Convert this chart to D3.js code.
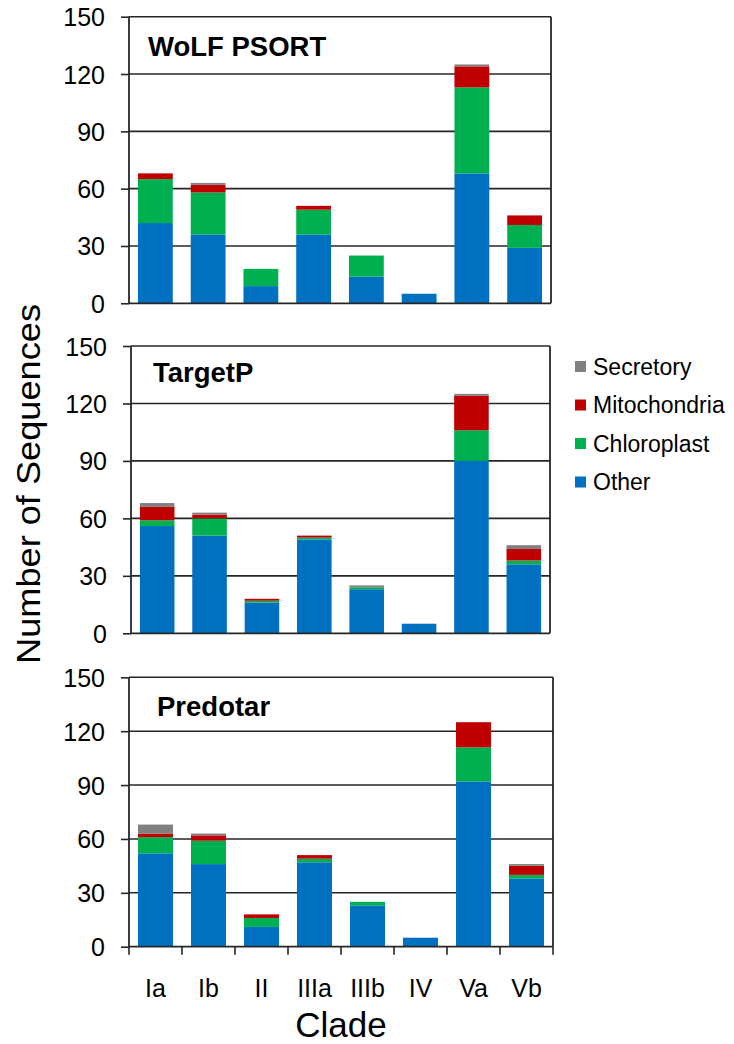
<!DOCTYPE html>
<html>
<head>
<meta charset="utf-8">
<script src="https://cdn.jsdelivr.net/npm/d3@7"></script>
<style>
  html, body { margin: 0; padding: 0; background: #fff; }
  svg text { font-family: "Liberation Sans", Arial, sans-serif; fill: #000; }
</style>
</head>
<body>
<svg id="chart" width="734" height="1044"></svg>
<script>
// Clades on the x axis
const clades = ["Ia", "Ib", "II", "IIIa", "IIIb", "IV", "Va", "Vb"];

// Localisation classes, bottom of the stack first
const locations = ["Other", "Chloroplast", "Mitochondria", "Secretory"];
const locationColors = ["#0070C0", "#00B050", "#C00000", "#808080"];

// Value axis ticks
const yTicks = [0, 30, 60, 90, 120, 150];

// WoLF PSORT predictions per clade
const wolfOther        = [42, 36, 9, 36, 14, 5, 68, 29];
const wolfChloroplast  = [23, 22, 9, 13, 11, 0, 45, 12];
const wolfMitochondria = [3, 4, 0, 2, 0, 0, 11, 5];
const wolfSecretory    = [0, 1, 0, 0, 0, 0, 1, 0];

// TargetP predictions per clade
const tpOther        = [56, 51, 16, 49, 23, 5, 90, 36];
const tpChloroplast  = [3, 9, 1, 1, 1, 0, 16, 2];
const tpMitochondria = [7, 2, 1, 1, 0, 0, 18, 6];
const tpSecretory    = [2, 1, 0, 0, 1, 0, 1, 2];

// Predotar predictions per clade
const pdOther        = [52, 46, 11, 47, 23, 5, 92, 38];
const pdChloroplast  = [9, 13, 5, 2, 2, 0, 19, 2];
const pdMitochondria = [2, 3, 2, 2, 0, 0, 14, 5];
const pdSecretory    = [5, 1, 0, 0, 0, 0, 0, 1];

const panels = [
  { title: "WoLF PSORT", series: [wolfOther, wolfChloroplast, wolfMitochondria, wolfSecretory],
    x0: 129, x1: 551, top: 16.7, bottom: 303.3, titleX: 148, titleY: 56, xTicks: false },
  { title: "TargetP", series: [tpOther, tpChloroplast, tpMitochondria, tpSecretory],
    x0: 131, x1: 550, top: 346, bottom: 633.3, titleX: 153, titleY: 382, xTicks: false },
  { title: "Predotar", series: [pdOther, pdChloroplast, pdMitochondria, pdSecretory],
    x0: 129, x1: 553, top: 677.3, bottom: 946.7, titleX: 157, titleY: 716, xTicks: true }
];

const svg = d3.select("#chart");
const lineColor = "#262626";

panels.forEach(p => {
  const g = svg.append("g");

  const x = d3.scaleBand().domain(clades).range([p.x0, p.x1])
    .paddingInner(0.34).paddingOuter(0.17);
  const y = d3.scaleLinear().domain([0, 150]).range([p.bottom, p.top]);

  // horizontal gridlines (including the top frame line at 150)
  g.selectAll("line.grid").data(yTicks.filter(t => t > 0)).join("line")
    .attr("class", "grid")
    .attr("x1", p.x0).attr("x2", p.x1)
    .attr("y1", d => y(d)).attr("y2", d => y(d))
    .attr("stroke", lineColor).attr("stroke-width", 1.6);

  // right frame line
  g.append("line")
    .attr("x1", p.x1).attr("x2", p.x1)
    .attr("y1", y(150)).attr("y2", y(0))
    .attr("stroke", lineColor).attr("stroke-width", 1.8);

  // stacked bars
  const rows = clades.map((c, i) => {
    const r = { clade: c };
    locations.forEach((loc, k) => { r[loc] = p.series[k][i]; });
    return r;
  });
  const stacked = d3.stack().keys(locations)(rows);

  g.selectAll("g.layer").data(stacked).join("g")
    .attr("class", "layer")
    .attr("fill", (d, k) => locationColors[k])
    .selectAll("rect").data(d => d).join("rect")
    .attr("x", d => x(d.data.clade))
    .attr("width", x.bandwidth())
    .attr("y", d => y(d[1]))
    .attr("height", d => y(d[0]) - y(d[1]));

  // left value axis
  const yAxis = d3.axisLeft(y).tickValues(yTicks).tickSize(8).tickPadding(16);
  const ya = g.append("g").attr("transform", `translate(${p.x0},0)`).call(yAxis);
  ya.select(".domain").attr("stroke", lineColor).attr("stroke-width", 1.8)
    .attr("d", `M0,${y(150)}V${y(0)}`);
  ya.selectAll(".tick line").attr("stroke", lineColor).attr("stroke-width", 1.6);
  ya.selectAll(".tick text")
    .attr("font-size", 25).attr("dy", "0.36em")
    .style("font-family", "'Liberation Sans', Arial, sans-serif");

  // baseline axis
  g.append("line")
    .attr("x1", p.x0).attr("x2", p.x1)
    .attr("y1", y(0)).attr("y2", y(0))
    .attr("stroke", lineColor).attr("stroke-width", 1.8);

  if (p.xTicks) {
    // category separators below the baseline
    const edges = clades.map(c => x(c) - x.step() * x.paddingInner() / 2);
    edges[0] = p.x0;
    edges.push(p.x1);
    g.selectAll("line.sep").data(edges).join("line")
      .attr("class", "sep")
      .attr("x1", d => d).attr("x2", d => d)
      .attr("y1", y(0)).attr("y2", y(0) + 8)
      .attr("stroke", lineColor).attr("stroke-width", 1.6);

    g.selectAll("text.clade").data(clades).join("text")
      .attr("class", "clade")
      .attr("x", d => x(d) + x.bandwidth() / 2)
      .attr("y", 997)
      .attr("text-anchor", "middle")
      .attr("font-size", 25)
      .text(d => d);
  }

  // panel title
  g.append("text")
    .attr("x", p.titleX).attr("y", p.titleY)
    .attr("font-size", 27.5).attr("font-weight", "bold")
    .text(p.title);
});

// legend, top entry is Secretory
const legendRows = locations.map((l, k) => ({ label: l, color: locationColors[k] })).reverse();
const legend = svg.append("g");
const legendY = d3.scalePoint().domain(legendRows.map(d => d.label)).range([366.5, 482]);
legendRows.forEach(d => {
  legend.append("rect")
    .attr("x", 575).attr("y", legendY(d.label) - 5.5)
    .attr("width", 11).attr("height", 11)
    .attr("fill", d.color);
  legend.append("text")
    .attr("x", 593).attr("y", legendY(d.label))
    .attr("dy", "0.36em")
    .attr("font-size", 23)
    .text(d.label);
});

// axis titles
svg.append("text")
  .attr("transform", "translate(40,484) rotate(-90)")
  .attr("text-anchor", "middle")
  .attr("font-size", 34)
  .attr("textLength", 360)
  .attr("lengthAdjust", "spacingAndGlyphs")
  .text("Number of Sequences");

svg.append("text")
  .attr("x", 341).attr("y", 1037)
  .attr("text-anchor", "middle")
  .attr("font-size", 35)
  .text("Clade");
</script>
</body>
</html>
